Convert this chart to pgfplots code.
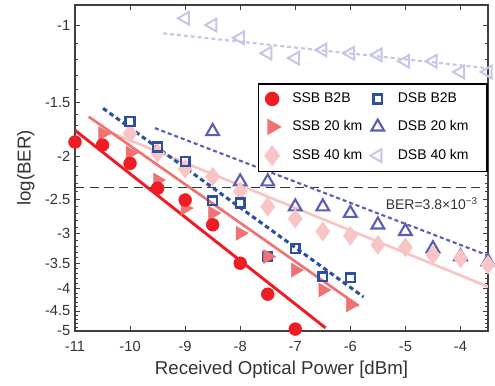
\documentclass[border=0pt]{standalone}
\usepackage{pgfplots}
\pgfplotsset{compat=1.18}
\usepackage{fontspec}
\setmainfont{Liberation Sans}
\definecolor{cA}{HTML}{EE1D23}
\definecolor{cB}{HTML}{F07373}
\definecolor{cC}{HTML}{F8C4C4}
\definecolor{cD}{HTML}{2D4FA3}
\definecolor{cE}{HTML}{5B5EB4}
\definecolor{cF}{HTML}{C6C6E6}
\definecolor{axgray}{HTML}{404040}
\definecolor{txtgray}{HTML}{333333}
\begin{document}
\begin{tikzpicture}
\useasboundingbox (0,0) rectangle (371.25pt,288.75pt);
\begin{axis}[
  at={(56.25pt,40.5pt)}, anchor=south west, scale only axis,
  width=309.75pt, height=244.5pt,
  xmin=-11, xmax=-3.5, ymin=-5, ymax=-0.9,
  y coord trafo/.code={\pgfmathparse{-ln(-(#1))}},
  ytick={-1,-1.5,-2,-2.5,-3,-3.5,-4,-4.5,-5},
  yticklabels={-1,-1.5,-2,-2.5,-3,-3.5,-4,-4.5,-5},
  minor ytick={-1.1,-1.2,-1.3,-1.4,-1.6,-1.7,-1.8,-1.9,-2.1,-2.2,-2.3,-2.4,-2.6,-2.7,-2.8,-2.9,-3.1,-3.2,-3.3,-3.4,-3.6,-3.7,-3.8,-3.9,-4.1,-4.2,-4.3,-4.4,-4.6,-4.7,-4.8,-4.9},
  xtick={-11,-10,-9,-8,-7,-6,-5,-4},
  /pgf/number format/assume math mode=true,
  tick label style={font=\fontsize{11}{13}\selectfont, text=txtgray},
  xticklabel style={yshift=-4.5pt},
  axis line style={axgray, line width=0.8pt},
  every tick/.style={axgray, line width=0.6pt},
  major tick length=4pt, minor tick length=2pt,
  xlabel={Received Optical Power [dBm]},
  ylabel={log(BER)},
  every axis x label/.style={at={(axis description cs:0.5,-0.1196)}, anchor=center, font=\fontsize{14}{16}\selectfont, text=txtgray},
  every axis y label/.style={at={(axis description cs:-0.119,0.5)}, rotate=90, anchor=center, font=\fontsize{14}{16}\selectfont, text=txtgray},
  clip mode=individual,
  legend style={at={(1,0.761)}, anchor=north east, draw=black, line width=1.2pt,
    font=\fontsize{10.5}{12}\selectfont, legend columns=2,
    /tikz/every even column/.append style={column sep=0pt},
    row sep=8pt, inner xsep=1pt, inner ysep=5pt},
  legend cell align=left,
  legend image code/.code={\path (0pt,0pt) (21pt,0pt); \draw[#1] plot coordinates {(8.5pt,0pt)};},
]
% threshold
\addplot[txtgray, line width=1.1pt, dash pattern=on 7pt off 4pt, forget plot] coordinates {(-11,-2.35) (-3.5,-2.35)};
\node[anchor=east, font=\fontsize{10.5}{12}\selectfont, text=txtgray] at (axis cs:-3.6,-2.56) {BER=3.8×10\textsuperscript{\char"2212 3}};
% fit lines
\addplot[cF, line width=1.6pt, dash pattern=on 3pt off 2.2pt, forget plot] coordinates {(-9.4,-1.045) (-3.5,-1.255)};
\addplot[cE, line width=1.6pt, dash pattern=on 3pt off 2.2pt, forget plot] coordinates {(-9.55,-1.72) (-3.5,-3.36)};
\addplot[cC, line width=2pt, forget plot] coordinates {(-10.4,-1.75) (-3.5,-3.96)};
\addplot[cD, line width=2.3pt, dash pattern=on 3.5pt off 2.5pt, forget plot] coordinates {(-10.49,-1.55) (-5.76,-4.18)};
\addplot[cB, line width=2pt, forget plot] coordinates {(-10.75,-1.62) (-5.85,-4.38)};
\addplot[cA, line width=2.2pt, forget plot] coordinates {(-11,-1.74) (-6.45,-4.92)};
% data
\addplot[only marks, mark=triangle, mark size=5.5pt, mark options={cF, line width=1.5pt, rotate=90}, forget plot] coordinates {
(-9,-0.965) (-8.5,-1.0) (-8,-1.07) (-7.5,-1.16) (-7,-1.19) (-6.5,-1.14) (-6,-1.16) (-5.5,-1.17) (-5,-1.21) (-4.5,-1.21) (-4,-1.28) (-3.5,-1.28)};
\addplot[only marks, mark=triangle, mark size=5.5pt, mark options={cE, line width=1.6pt}, forget plot] coordinates {
(-8.5,-1.75) (-8,-2.28) (-7.5,-2.28) (-7,-2.60) (-6.5,-2.60) (-6,-2.69) (-5.5,-2.86) (-5,-2.96) (-4.5,-3.24) (-4,-3.38) (-3.5,-3.47)};
\addplot[only marks, mark=diamond*, mark size=7pt, mark options={cC, draw=none, fill=cC}, forget plot] coordinates {
(-10,-1.77) (-9.5,-1.96) (-9,-2.13) (-8.5,-2.22) (-8,-2.40) (-7.5,-2.60) (-7,-2.77) (-6.5,-2.96) (-6,-3.03) (-5.5,-3.18) (-5,-3.22) (-4.5,-3.35) (-4,-3.41) (-3.5,-3.53)};
\addplot[only marks, mark=square, mark size=3.3pt, mark options={cD, line width=1.8pt}, forget plot] coordinates {
(-10,-1.66) (-9.5,-1.90) (-9,-2.05) (-8.5,-2.52) (-8,-2.55) (-7.5,-3.38) (-7,-3.24) (-6.5,-3.76) (-6,-3.78)};
\addplot[only marks, mark=triangle*, mark size=6pt, mark options={cB, draw=none, fill=cB, rotate=-90}, forget plot] coordinates {
(-10.5,-1.77) (-10,-1.96) (-9.5,-2.26) (-9,-2.62) (-8.5,-2.69) (-8,-2.99) (-7.5,-3.38) (-7,-3.63) (-6.5,-4.03) (-6,-4.36)};
\addplot[only marks, mark=*, mark size=4.8pt, mark options={cA, draw=none, fill=cA}, forget plot] coordinates {
(-11,-1.85) (-10.5,-1.88) (-10,-2.07) (-9.5,-2.36) (-9,-2.51) (-8.5,-2.86) (-8,-3.5) (-7.5,-4.12) (-7,-4.95)};
% legend
\addlegendimage{only marks, mark=*, mark size=4.8pt, mark options={cA, draw=none, fill=cA}}
\addlegendentry{\makebox[53pt][l]{SSB B2B}}
\addlegendimage{only marks, mark=square, mark size=3.3pt, mark options={cD, line width=1.8pt}}
\addlegendentry{\makebox[64pt][l]{DSB B2B}}
\addlegendimage{only marks, mark=triangle*, mark size=6pt, mark options={cB, draw=none, fill=cB, rotate=-90}}
\addlegendentry{\makebox[53pt][l]{SSB 20 km}}
\addlegendimage{only marks, mark=triangle, mark size=5.5pt, mark options={cE, line width=1.6pt}}
\addlegendentry{\makebox[64pt][l]{DSB 20 km}}
\addlegendimage{only marks, mark=diamond*, mark size=7pt, mark options={cC, draw=none, fill=cC}}
\addlegendentry{\makebox[53pt][l]{SSB 40 km}}
\addlegendimage{only marks, mark=triangle, mark size=5.5pt, mark options={cF, line width=1.5pt, rotate=90}}
\addlegendentry{\makebox[64pt][l]{DSB 40 km}}
\end{axis}
\end{tikzpicture}
\end{document}
